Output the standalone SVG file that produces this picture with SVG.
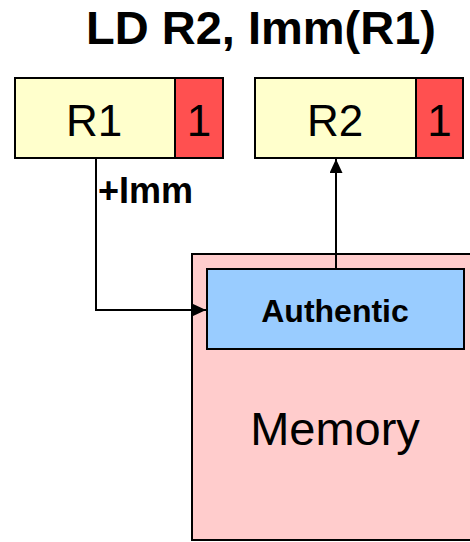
<svg xmlns="http://www.w3.org/2000/svg" width="470" height="542" viewBox="0 0 470 542">
  <style>
    .box { stroke: #000; stroke-width: 2; }
    .reg { fill: #FFFFCC; }
    .tag { fill: #FF5050; }
    .mem { fill: #FFCCCC; }
    .auth { fill: #99CCFF; }
    text { font-family: "Liberation Sans", Arial, sans-serif; fill: #000; }
    .big { font-size: 44px; text-anchor: middle; }
    .wire { fill: none; stroke: #000; stroke-width: 2; }
  </style>
  <defs>
    <marker id="arrow" markerWidth="14" markerHeight="13" refX="14" refY="6.5" orient="auto" markerUnits="userSpaceOnUse" viewBox="0 0 14 13">
      <path d="M0,0 L14,6.5 L0,13 z" fill="#000"/>
    </marker>
  </defs>

  <text x="261" y="44" font-size="47" font-weight="bold" text-anchor="middle">LD R2, Imm(R1)</text>

  <g id="memory">
    <rect class="box mem" x="192" y="254" width="282" height="286"/>
    <text x="335" y="445" font-size="47" text-anchor="middle">Memory</text>
  </g>

  <g id="authentic">
    <rect class="box auth" x="207" y="269" width="257" height="80"/>
    <text x="335" y="322" font-size="32" font-weight="bold" text-anchor="middle">Authentic</text>
  </g>

  <g id="r1">
    <rect class="box reg" x="15" y="78" width="160" height="80"/>
    <rect class="box tag" x="175" y="78" width="48" height="80"/>
    <text class="big" x="94" y="136">R1</text>
    <text class="big" x="199" y="136">1</text>
  </g>

  <g id="r2">
    <rect class="box reg" x="255" y="78" width="161" height="80"/>
    <rect class="box tag" x="416" y="78" width="47" height="80"/>
    <text class="big" x="335" y="136">R2</text>
    <text class="big" x="439.5" y="136">1</text>
  </g>

  <g id="connectors">
    <path class="wire" d="M96,158 V310 H206" marker-end="url(#arrow)"/>
    <text x="98" y="203" font-size="36" font-weight="bold">+Imm</text>
    <path class="wire" d="M336,269 V159" marker-end="url(#arrow)"/>
  </g>
</svg>
